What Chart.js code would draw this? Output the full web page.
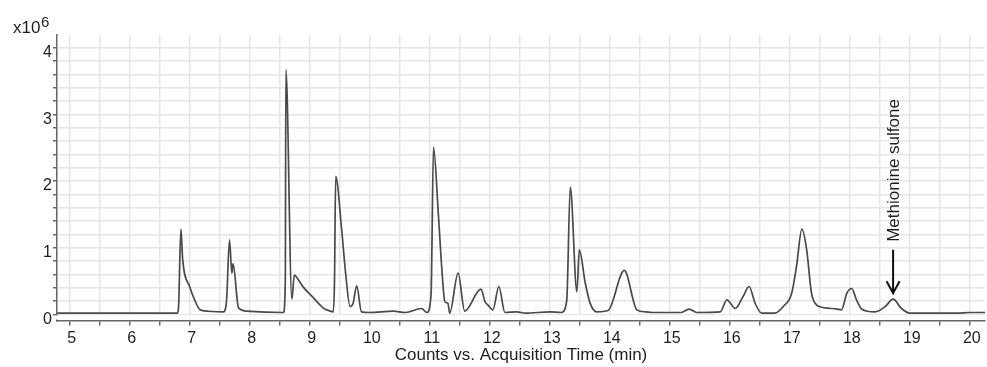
<!DOCTYPE html>
<html>
<head>
<meta charset="utf-8">
<script src="https://cdn.jsdelivr.net/npm/chart.js@4.4.1/dist/chart.umd.min.js"></script>
<style>
  html, body { margin: 0; padding: 0; background: #fff; }
</style>
</head>
<body>
<canvas id="chrom" width="987" height="367"></canvas>
<script>
// acquisition time (min) and counts (x10^6) of the trace
const times = [
  4.80, 6.80, 6.82, 6.86, 6.89, 7.01, 7.07, 7.18, 7.30, 7.57,
  7.62, 7.67, 7.71, 7.73, 7.82, 7.95, 8.57, 8.60, 8.61, 8.71,
  8.75, 8.78, 8.90, 9.07, 9.23, 9.35, 9.40, 9.42, 9.44, 9.54,
  9.60, 9.68, 9.73, 9.79, 9.87, 10.00, 10.40, 10.60, 10.87, 10.96,
  11.03, 11.07, 11.15, 11.21, 11.26, 11.31, 11.34, 11.48, 11.59, 11.86,
  11.93, 11.98, 12.06, 12.16, 12.26, 12.46, 12.60, 13.01, 13.20, 13.29,
  13.35, 13.46, 13.50, 13.60, 13.68, 13.79, 13.98, 14.25, 14.46, 14.60,
  14.72, 15.20, 15.33, 15.46, 15.85, 15.96, 16.10, 16.23, 16.33, 16.43,
  16.54, 16.76, 16.90, 17.04, 17.12, 17.21, 17.29, 17.37, 17.46, 17.50,
  17.80, 17.87, 17.96, 18.04, 18.12, 18.21, 18.43, 18.60, 18.73, 18.87,
  19.01, 19.80, 20.00, 20.27
];
const counts = [
  0.02, 0.02, 0.10, 1.28, 0.82, 0.41, 0.26, 0.07, 0.05, 0.04,
  0.20, 1.12, 0.62, 0.76, 0.10, 0.05, 0.03, 0.50, 3.67, 0.23,
  0.59, 0.57, 0.41, 0.25, 0.10, 0.05, 0.04, 0.50, 2.07, 1.27,
  0.67, 0.12, 0.17, 0.43, 0.04, 0.03, 0.05, 0.03, 0.09, 0.03,
  0.30, 2.51, 1.52, 0.67, 0.19, 0.17, 0.02, 0.62, 0.05, 0.38,
  0.19, 0.14, 0.07, 0.42, 0.03, 0.04, 0.02, 0.04, 0.03, 0.20,
  1.91, 0.34, 0.97, 0.47, 0.17, 0.04, 0.06, 0.66, 0.07, 0.04,
  0.03, 0.03, 0.08, 0.03, 0.04, 0.22, 0.09, 0.27, 0.42, 0.17,
  0.02, 0.02, 0.12, 0.32, 0.72, 1.28, 0.97, 0.32, 0.14, 0.12,
  0.08, 0.07, 0.32, 0.39, 0.22, 0.08, 0.04, 0.12, 0.23, 0.09,
  0.02, 0.02, 0.03, 0.03
];

// labelled compound
const peakName = "Methionine sulfone";
const peakTime = 18.73;

const textFont = "'Liberation Sans', Arial, sans-serif";
const textColor = "#1e1e1e";

// white strip between zero line and the time axis, hides grid in the gap
const axisGap = {
  id: "axisGap",
  beforeDatasetsDraw(chart) {
    const { ctx, chartArea, scales } = chart;
    const y0 = scales.y.getPixelForValue(0);
    ctx.save();
    ctx.fillStyle = "#fff";
    ctx.fillRect(chartArea.left - 2, y0 + 1, chartArea.right - chartArea.left + 4, chartArea.bottom - y0 - 2);
    ctx.restore();
  }
};

// exponent label and the arrow annotation
const extras = {
  id: "extras",
  afterDraw(chart) {
    const { ctx, scales } = chart;
    ctx.save();
    ctx.fillStyle = textColor;
    ctx.textBaseline = "alphabetic";
    ctx.font = "17px " + textFont;
    ctx.fillText("x10", 13, 33);
    const w = ctx.measureText("x10").width;
    ctx.font = "15px " + textFont;
    ctx.fillText("6", 13 + w + 0.5, 27);

    const px = scales.x.getPixelForValue(peakTime);
    const yTop = scales.y.getPixelForValue(0.97);
    const yTip = scales.y.getPixelForValue(0.32);
    ctx.strokeStyle = "#111";
    ctx.lineWidth = 2;
    ctx.beginPath();
    ctx.moveTo(px, yTop);
    ctx.lineTo(px, yTip);
    ctx.moveTo(px - 6.5, yTip - 12);
    ctx.lineTo(px, yTip);
    ctx.lineTo(px + 6.5, yTip - 12);
    ctx.stroke();

    ctx.translate(px + 6, scales.y.getPixelForValue(1.09));
    ctx.rotate(-Math.PI / 2);
    ctx.fillStyle = textColor;
    ctx.font = "17px " + textFont;
    ctx.textAlign = "left";
    ctx.fillText(peakName, 0, 0);
    ctx.restore();
  }
};

new Chart(document.getElementById("chrom"), {
  type: "line",
  data: {
    datasets: [{
      data: times.map((t, i) => ({ x: t, y: counts[i] })),
      borderColor: "#4a4a4a",
      borderWidth: 1.7,
      pointRadius: 0,
      cubicInterpolationMode: "monotone",
      fill: false
    }]
  },
  options: {
    responsive: false,
    animation: false,
    layout: { padding: { top: 35, right: 2, left: 0, bottom: 0 } },
    plugins: { legend: { display: false }, tooltip: { enabled: false } },
    scales: {
      x: {
        type: "linear",
        min: 4.795,
        max: 20.262,
        afterFit: s => { s.height = 46.5; },
        ticks: {
          stepSize: 0.5,
          includeBounds: false,
          autoSkip: false,
          maxRotation: 0,
          padding: 3,
          labelOffset: 2.5,
          color: textColor,
          font: { family: textFont, size: 16 },
          callback: v => Math.abs(v - Math.round(v)) < 1e-6 ? String(Math.round(v)) : ""
        },
        grid: { color: "#e6e6e6", lineWidth: 1.5, tickColor: "#666", tickLength: 5 },
        border: { color: "#666", width: 1.5 },
        title: {
          display: true,
          text: "Counts vs. Acquisition Time (min)",
          color: textColor,
          font: { family: textFont, size: 17 },
          padding: { top: 0, bottom: 1 }
        }
      },
      y: {
        min: -0.09,
        max: 4.19,
        afterFit: s => { s.width = 57; },
        afterBuildTicks: s => {
          s.ticks = s.ticks.filter(t => t.value > -1e-6);
        },
        ticks: {
          stepSize: 0.2,
          includeBounds: false,
          autoSkip: false,
          padding: 1,
          labelOffset: 5,
          color: textColor,
          font: { family: textFont, size: 16 },
          callback: v => Math.abs(v - Math.round(v)) < 1e-6 ? String(Math.round(v)) : ""
        },
        grid: { color: "#e6e6e6", lineWidth: 1.5, tickColor: "#666", tickLength: 4 },
        border: { color: "#666", width: 1.5 }
      }
    }
  },
  plugins: [axisGap, extras]
});
</script>
</body>
</html>
